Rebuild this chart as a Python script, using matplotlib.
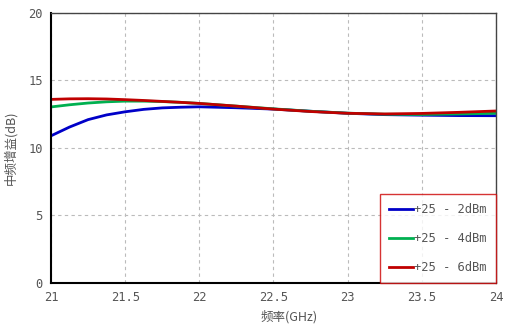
import numpy as np
import matplotlib
matplotlib.use('Agg')
import matplotlib.pyplot as plt

plt.rcParams['font.family'] = ['Noto Sans CJK SC', 'DejaVu Sans']

# 频率 (GHz)
freq = [21, 21.125, 21.25, 21.375, 21.5, 21.625, 21.75, 21.875, 22,
        22.25, 22.5, 22.75, 23, 23.25, 23.5, 23.75, 24]
# 中频增益 (dB)
gain_2dbm = [10.9, 11.55, 12.1, 12.45, 12.68, 12.86, 12.97, 13.02, 13.05,
             12.98, 12.88, 12.72, 12.57, 12.47, 12.43, 12.40, 12.39]
gain_4dbm = [13.04, 13.2, 13.33, 13.42, 13.47, 13.47, 13.44, 13.38, 13.3,
             13.1, 12.9, 12.72, 12.58, 12.5, 12.48, 12.52, 12.57]
gain_6dbm = [13.6, 13.64, 13.65, 13.63, 13.58, 13.52, 13.45, 13.38, 13.3,
             13.1, 12.88, 12.7, 12.57, 12.52, 12.56, 12.64, 12.74]
labels = ['+25 - 2dBm', '+25 - 4dBm', '+25 - 6dBm']
xticks = [21, 21.5, 22, 22.5, 23, 23.5, 24]
xticklabels = ['21', '21.5', '22', '22.5', '23', '23.5', '24']
yticks = [0, 5, 10, 15, 20]

fig = plt.figure(figsize=(5.05, 3.34), dpi=100)
ax = fig.add_axes([0.101, 0.153, 0.881, 0.808])

colors = ['#0000c8', '#00b050', '#c00000']
for y, c, lab in zip([gain_2dbm, gain_4dbm, gain_6dbm], colors, labels):
    ax.plot(freq, y, color=c, lw=2, label=lab)

ax.set_xlim(21, 24)
ax.set_ylim(0, 20)
ax.set_xticks(xticks)
ax.set_xticklabels(xticklabels)
ax.set_yticks(yticks)
ax.tick_params(length=0, labelsize=9, labelcolor='#555555', pad=6)
for t in ax.get_xticklabels() + ax.get_yticklabels():
    t.set_family('DejaVu Sans Mono')
    t.set_fontsize(8.7)
ax.grid(True, ls=(0, (3, 3)), color='#bbbbbb', lw=0.8)

for s in ['left', 'bottom']:
    ax.spines[s].set_color('black')
    ax.spines[s].set_linewidth(1.5)
for s in ['top', 'right']:
    ax.spines[s].set_color('#444444')
    ax.spines[s].set_linewidth(1.0)

ax.set_xlabel('频率(GHz)', fontsize=9, color='#555555', labelpad=4)
ax.xaxis.set_label_coords(0.535, -0.1)
ax.set_ylabel('中频增益(dB)', fontsize=9, color='#555555', labelpad=8)

leg = ax.legend(loc='lower right', borderaxespad=0,
                prop={'family': 'DejaVu Sans Mono', 'size': 8.7},
                labelcolor='#555555', handlelength=2.0, handletextpad=0.1,
                labelspacing=1.3, fancybox=False, borderpad=0.75)
leg.get_frame().set_edgecolor('#cc0000')
leg.get_frame().set_linewidth(1.0)

fig.savefig('out.png', dpi=100)
